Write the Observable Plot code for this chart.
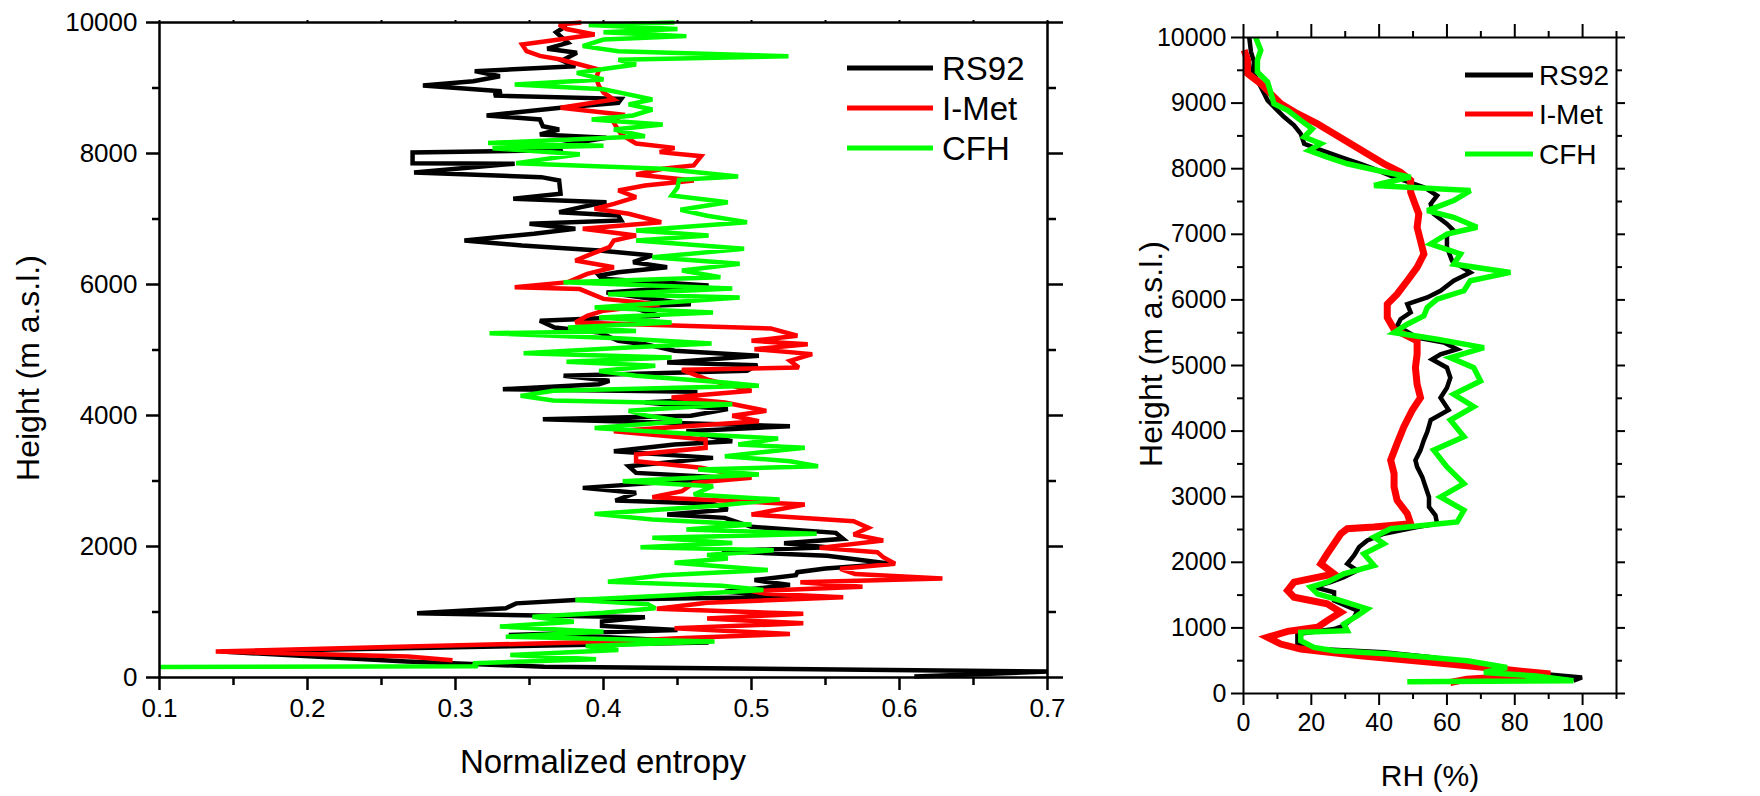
<!DOCTYPE html>
<html>
<head>
<meta charset="utf-8">
<script src="https://cdn.jsdelivr.net/npm/d3@7"></script>
<script src="https://cdn.jsdelivr.net/npm/@observablehq/plot@0.6"></script>
<style>
  html, body { margin: 0; padding: 0; background: #fff; }
  #wrap { position: relative; width: 1760px; height: 796px; background: #fff; overflow: hidden; }
  #wrap svg { position: absolute; top: 0; }
</style>
</head>
<body>
<div id="wrap"></div>
<script>
// ---------------- DATA ----------------
const seriesNames = ["RS92", "I-Met", "CFH"];
const seriesColors = ["#000000", "#ff0000", "#00ff00"];

// Left panel: [height (m a.s.l.), normalized entropy]
const entropyRS92 = [
  [9950,0.375],[9850,0.368],[9690,0.376],[9600,0.362],[9537,0.382],[9420,0.372],[9333,0.381],[9257,0.313],
  [9180,0.330],[9104,0.312],[9038,0.278],[8951,0.331],[8885,0.326],[8834,0.412],[8773,0.410],[8697,0.371],
  [8580,0.321],[8519,0.357],[8417,0.359],[8366,0.370],[8290,0.357],[8239,0.402],[8122,0.370],[8051,0.371],
  [8015,0.271],[7850,0.271],[7845,0.340],[7710,0.272],[7639,0.358],[7588,0.370],[7384,0.371],[7308,0.339],
  [7257,0.402],[7181,0.385],[7104,0.370],[7053,0.410],[6977,0.412],[6926,0.350],[6850,0.381],[6774,0.353],
  [6672,0.306],[6595,0.345],[6519,0.397],[6443,0.433],[6341,0.420],[6264,0.443],[6188,0.410],[6137,0.397],
  [6086,0.399],[5985,0.471],[5878,0.402],[5700,0.459],[5665,0.417],[5522,0.438],[5446,0.357],[5344,0.367],
  [5267,0.397],[5140,0.410],[5089,0.428],[4988,0.448],[4911,0.505],[4809,0.443],[4769,0.504],[4682,0.497],
  [4606,0.373],[4529,0.404],[4478,0.397],[4402,0.332],[4361,0.462],[4239,0.462],[4199,0.428],[4097,0.484],
  [3995,0.459],[3944,0.359],[3837,0.526],[3761,0.456],[3608,0.487],[3557,0.448],[3455,0.407],[3353,0.474],
  [3226,0.417],[3124,0.422],[3048,0.484],[2895,0.386],[2819,0.422],[2702,0.408],[2651,0.474],[2564,0.484],
  [2488,0.443],[2437,0.482],[2300,0.500],[2208,0.557],[2117,0.562],[2050,0.522],[1990,0.551],[1928,0.480],
  [1860,0.551],[1736,0.594],[1665,0.550],[1608,0.531],[1563,0.530],[1487,0.502],[1411,0.526],[1310,0.482],
  [1233,0.529],[1183,0.381],[1132,0.341],[1056,0.334],[980,0.274],[919,0.428],[853,0.399],[787,0.399],
  [726,0.450],[650,0.336],[614,0.404],[533,0.471],[396,0.142],[244,0.267],[165,0.360],[90,0.700],[15,0.610]
];
const entropyIMet = [
  [10000,0.385],[9970,0.370],[9900,0.375],[9817,0.394],[9740,0.370],[9664,0.345],[9562,0.348],[9490,0.357],
  [9435,0.371],[9359,0.384],[9282,0.397],[9150,0.395],[9028,0.397],[8930,0.400],[8824,0.407],[8697,0.371],
  [8595,0.412],[8468,0.407],[8290,0.412],[8152,0.422],[8086,0.448],[8021,0.438],[7959,0.466],[7817,0.461],
  [7766,0.440],[7680,0.422],[7588,0.461],[7512,0.428],[7435,0.410],[7333,0.422],[7232,0.407],[7155,0.394],
  [7079,0.417],[6952,0.439],[6850,0.386],[6748,0.422],[6672,0.407],[6570,0.404],[6468,0.392],[6366,0.381],
  [6264,0.407],[6163,0.389],[6036,0.376],[5959,0.340],[5930,0.384],[5780,0.400],[5700,0.438],[5600,0.400],
  [5522,0.389],[5420,0.381],[5329,0.513],[5217,0.531],[5140,0.500],[5089,0.538],[5013,0.502],[4937,0.541],
  [4835,0.526],[4733,0.532],[4697,0.453],[4550,0.470],[4377,0.500],[4275,0.446],[4199,0.482],[4071,0.510],
  [3995,0.487],[3913,0.505],[3761,0.407],[3633,0.469],[3506,0.469],[3404,0.422],[3302,0.422],[3201,0.466],
  [3048,0.500],[2972,0.461],[2844,0.453],[2753,0.433],[2641,0.536],[2488,0.500],[2386,0.569],[2285,0.579],
  [2183,0.569],[2092,0.589],[1979,0.546],[1914,0.585],[1837,0.589],[1736,0.597],[1660,0.560],[1580,0.570],
  [1513,0.629],[1455,0.533],[1386,0.575],[1320,0.500],[1277,0.510],[1226,0.562],[1140,0.470],[1048,0.436],
  [972,0.535],[900,0.470],[827,0.535],[751,0.448],[665,0.526],[600,0.450],[548,0.406],[472,0.268],
  [396,0.138],[320,0.268],[265,0.298]
];
const entropyCFH = [
  [10000,0.448],[9960,0.390],[9900,0.450],[9850,0.400],[9792,0.456],[9740,0.400],[9639,0.386],[9560,0.410],
  [9486,0.525],[9430,0.410],[9359,0.422],[9290,0.400],[9231,0.382],[9130,0.400],[9053,0.340],[8980,0.400],
  [8926,0.412],[8824,0.433],[8750,0.417],[8672,0.433],[8580,0.420],[8519,0.392],[8442,0.440],[8366,0.407],
  [8264,0.428],[8160,0.322],[8120,0.400],[8080,0.325],[7990,0.384],[7853,0.341],[7766,0.440],[7649,0.491],
  [7598,0.451],[7480,0.450],[7359,0.446],[7257,0.484],[7140,0.452],[7050,0.470],[6952,0.497],[6824,0.422],
  [6748,0.471],[6672,0.422],[6544,0.495],[6417,0.433],[6315,0.492],[6213,0.453],[6112,0.479],[6036,0.373],
  [5940,0.487],[5853,0.403],[5802,0.492],[5649,0.394],[5573,0.474],[5496,0.397],[5420,0.446],[5344,0.376],
  [5290,0.422],[5257,0.323],[5180,0.410],[5100,0.473],[5030,0.410],[4952,0.346],[4886,0.446],[4820,0.375],
  [4758,0.435],[4680,0.397],[4606,0.422],[4504,0.482],[4453,0.505],[4377,0.366],[4300,0.344],[4230,0.366],
  [4173,0.487],[4071,0.417],[3995,0.430],[3913,0.453],[3811,0.394],[3710,0.466],[3648,0.518],[3557,0.491],
  [3506,0.536],[3379,0.482],[3302,0.526],[3226,0.545],[3175,0.464],[3099,0.505],[2997,0.413],[2921,0.474],
  [2793,0.461],[2717,0.519],[2620,0.474],[2498,0.394],[2412,0.433],[2336,0.500],[2259,0.456],[2193,0.544],
  [2132,0.433],[2055,0.487],[1989,0.425],[1944,0.515],[1870,0.470],[1817,0.484],[1751,0.448],[1640,0.511],
  [1560,0.440],[1462,0.403],[1400,0.480],[1335,0.508],[1260,0.450],[1183,0.381],[1120,0.430],[1056,0.435],
  [990,0.400],[929,0.352],[850,0.380],[777,0.330],[700,0.400],[624,0.334],[548,0.475],[482,0.388],
  [421,0.410],[345,0.337],[279,0.395],[218,0.312],[170,0.315],[160,0.100]
];

// Right panel: [height (m a.s.l.), RH (%)]
const rhRS92 = [
  [10000,1.7],[9781,2.2],[9628,3.1],[9475,2.7],[9348,4.1],[9195,5.6],[9042,7.1],[8890,10],[8788,12],
  [8660,14.9],[8533,16.9],[8380,17.9],[8304,21.8],[8176,28.7],[8075,34.5],[7998,38.5],[7871,44.4],
  [7718,53.2],[7591,57.1],[7463,55.2],[7310,56.1],[7158,60],[7056,62],[6979,60],[6801,60],[6597,61.5],
  [6419,66.9],[6292,62],[6139,58.1],[6037,54.2],[5935,48.3],[5808,49.3],[5706,46.3],[5604,45.3],
  [5426,51.2],[5349,59.1],[5247,63],[5171,58.1],[5094,55.6],[4967,60],[4814,61],[4662,60],[4509,58.1],
  [4321,60.5],[4168,55.2],[3990,54.2],[3863,53.2],[3710,52.2],[3557,50.7],[3455,51.2],[3302,52.7],
  [3149,53.7],[2996,54.7],[2844,54.7],[2716,56.6],[2589,57.1],[2538,51.2],[2436,41.4],[2334,36.5],
  [2232,34.1],[2105,32.6],[1977,30.6],[1875,33.6],[1773,29.6],[1697,25.7],[1621,20.8],[1544,26.7],
  [1417,26.7],[1264,33.6],[1162,32.6],[1034,29.6],[983,26.7],[907,15.9],[754,15.9],[678,21.8],
  [627,41.4],[550,56.1],[448,67.9],[347,77.7],[245,99.8],[194,97.3]
];
const rhIMet = [
  [9806,0.2],[9654,1.2],[9450,1.2],[9297,5.1],[9144,8],[8991,11],[8839,15.9],[8686,21.8],[8533,26.7],
  [8380,31.6],[8227,36.5],[8075,41.4],[7947,46.3],[7820,49.3],[7642,49.3],[7514,50.2],[7310,51.7],
  [7107,51.2],[6903,52.2],[6699,53.2],[6495,51.2],[6292,48.3],[6088,45.3],[5935,42.4],[5731,42.4],
  [5553,44.4],[5375,51.2],[5171,51.2],[4967,50.7],[4712,51.2],[4509,52.2],[4321,49.8],[4066,47.3],
  [3812,45.3],[3557,43.4],[3353,44.4],[3149,44.4],[2945,45.3],[2742,48.3],[2589,49.3],[2538,38.5],
  [2512,30.6],[2436,28.7],[2283,26.7],[2130,24.7],[1977,22.8],[1824,26.7],[1697,14.9],[1570,13],
  [1468,14.9],[1366,24.7],[1238,28.7],[1111,24.7],[1009,21.8],[948,13],[856,7.1],[754,11],[678,16.9],
  [576,34.5],[474,56.1],[372,75.8],[296,90.5],[219,65.9],[168,61]
];
const rhCFH = [
  [10000,3.6],[9806,5.1],[9654,4.1],[9475,4.1],[9322,7.1],[9170,8],[8991,9],[8890,13],[8737,16.9],
  [8609,20.3],[8482,17.9],[8380,22.8],[8278,19.3],[8176,24.7],[8075,30.6],[7973,39.5],[7871,49.3],
  [7794,42.4],[7744,38.5],[7667,66.9],[7514,62],[7361,54.2],[7259,62],[7107,68.9],[7005,60],[6852,55.2],
  [6699,64],[6546,62],[6419,78.7],[6292,66.9],[6139,65],[6012,57.1],[5884,54.2],[5757,53.2],[5629,48.3],
  [5502,44.4],[5400,57.1],[5273,70.9],[5120,61],[4967,67.9],[4763,69.9],[4560,62],[4372,67.9],[4168,61],
  [3914,65],[3710,56.1],[3455,60],[3200,65],[2996,58.1],[2793,65],[2614,63],[2512,43.4],[2385,38.5],
  [2283,41.4],[2130,35.5],[1952,38.5],[1824,29.6],[1697,24.7],[1621,19.8],[1519,21.8],[1417,28.7],
  [1289,36.5],[1187,33.6],[1060,29.6],[958,30.6],[933,16.9],[805,16.9],[703,20.8],[652,26.7],[601,43.4],
  [499,66],[397,77.7],[321,70.9],[270,85.6],[194,97.3],[178,48.3]
];

// Axis ticks
const entropyTicks = [0.1, 0.2, 0.3, 0.4, 0.5, 0.6, 0.7];
const entropyMinorTicks = [0.15, 0.25, 0.35, 0.45, 0.55, 0.65];
const heightTicksLeft = [0, 2000, 4000, 6000, 8000, 10000];
const heightMinorLeft = [1000, 3000, 5000, 7000, 9000];
const rhTicks = [0, 20, 40, 60, 80, 100];
const rhMinorTicks = [10, 30, 50, 70, 90, 110];
const heightTicksRight = [0, 1000, 2000, 3000, 4000, 5000, 6000, 7000, 8000, 9000, 10000];
const heightMinorRight = [500, 1500, 2500, 3500, 4500, 5500, 6500, 7500, 8500, 9500];

// ---------------- RENDER ----------------
const FONT = "'Liberation Sans', Arial, Helvetica, sans-serif";
const toRows = (pairs) => pairs.map(([h, v]) => ({h, v}));
const blank = () => "";

function lines(sets, width) {
  return sets.map((s, i) => Plot.line(toRows(s), {
    x: "v", y: "h", stroke: seriesColors[i], strokeWidth: width[i],
    strokeLinejoin: "miter", strokeMiterlimit: 3, strokeLinecap: "butt"
  }));
}

const wrap = document.getElementById("wrap");

// Left panel
const leftW = 1090;
const leftPlot = Plot.plot({
  width: leftW, height: 796,
  marginLeft: 159, marginRight: leftW - 1047, marginTop: 22, marginBottom: 796 - 677,
  x: {domain: [0.1, 0.7]},
  y: {domain: [0, 10000]},
  style: {fontFamily: FONT, color: "#000", background: "transparent", overflow: "visible"},
  marks: [
    ...lines([entropyRS92, entropyIMet, entropyCFH], [4.5, 4.5, 4.5]),
    Plot.frame({stroke: "#000", strokeWidth: 2.5}),
    Plot.axisX({anchor: "bottom", ticks: entropyTicks, tickSize: 13, tickPadding: 8, tickFormat: d => d.toFixed(1), fontSize: 26, strokeWidth: 2.5, label: null}),
    Plot.axisX({anchor: "bottom", ticks: entropyMinorTicks, tickSize: 8, tickFormat: blank, strokeWidth: 2.5, label: null}),
    Plot.axisX({anchor: "top", ticks: entropyTicks.concat(entropyMinorTicks), tickSize: 3, tickFormat: blank, strokeWidth: 2, label: null}),
    Plot.axisY({anchor: "left", ticks: heightTicksLeft, tickSize: 13, tickPadding: 9, tickFormat: d => String(d), fontSize: 26, strokeWidth: 2.5, label: null}),
    Plot.axisY({anchor: "left", ticks: heightMinorLeft, tickSize: 7, tickFormat: blank, strokeWidth: 2.5, label: null}),
    Plot.axisY({anchor: "right", ticks: heightTicksLeft, tickSize: 15, tickFormat: blank, strokeWidth: 2.5, label: null}),
    Plot.axisY({anchor: "right", ticks: heightMinorLeft, tickSize: 8, tickFormat: blank, strokeWidth: 2.5, label: null})
  ]
});
leftPlot.style.left = "0px";
wrap.appendChild(leftPlot);

// Right panel
const rightX = 1100, rightW = 660;
const rightPlot = Plot.plot({
  width: rightW, height: 796,
  marginLeft: 1243 - rightX, marginRight: rightW - (1616 - rightX), marginTop: 37, marginBottom: 796 - 693,
  x: {domain: [0, 110]},
  y: {domain: [0, 10000]},
  style: {fontFamily: FONT, color: "#000", background: "transparent", overflow: "visible"},
  marks: [
    ...lines([rhRS92, rhIMet, rhCFH], [4.5, 7, 5.5]),
    Plot.frame({stroke: "#000", strokeWidth: 2}),
    Plot.axisX({anchor: "bottom", ticks: rhTicks, tickSize: 12, tickPadding: 8, tickFormat: d => String(d), fontSize: 25, strokeWidth: 2, label: null}),
    Plot.axisX({anchor: "bottom", ticks: rhMinorTicks, tickSize: 6, tickFormat: blank, strokeWidth: 2, label: null}),
    Plot.axisX({anchor: "top", ticks: rhTicks, tickSize: 14, tickFormat: blank, strokeWidth: 2, label: null}),
    Plot.axisX({anchor: "top", ticks: rhMinorTicks, tickSize: 7, tickFormat: blank, strokeWidth: 2, label: null}),
    Plot.axisY({anchor: "left", ticks: heightTicksRight, tickSize: 12, tickPadding: 5, tickFormat: d => String(d), fontSize: 25, strokeWidth: 2, label: null}),
    Plot.axisY({anchor: "left", ticks: heightMinorRight, tickSize: 6, tickFormat: blank, strokeWidth: 2, label: null}),
    Plot.axisY({anchor: "right", ticks: heightTicksRight, tickSize: 8, tickFormat: blank, strokeWidth: 2, label: null}),
    Plot.axisY({anchor: "right", ticks: heightMinorRight, tickSize: 5, tickFormat: blank, strokeWidth: 2, label: null})
  ]
});
rightPlot.style.left = rightX + "px";
wrap.appendChild(rightPlot);

// Axis titles and legends (layout only)
function addText(svg, txt, x, y, size, rotate) {
  const t = d3.select(svg).append("text")
    .attr("x", x).attr("y", y)
    .attr("font-family", FONT).attr("font-size", size)
    .attr("fill", "#000")
    .attr("text-anchor", "middle")
    .text(txt);
  if (rotate) t.attr("transform", `rotate(${rotate},${x},${y})`);
  return t;
}
addText(leftPlot, "Normalized entropy", 603, 773, 33);
addText(leftPlot, "Height (m a.s.l.)", 39, 368, 32, -90);
addText(rightPlot, "RH (%)", 1430 - rightX, 786, 30);
addText(rightPlot, "Height (m a.s.l.)", 1162 - rightX, 354, 32, -90);

function addLegend(svg, x0, x1, tx, ys, size) {
  const g = d3.select(svg).append("g");
  seriesNames.forEach((name, i) => {
    g.append("line").attr("x1", x0).attr("x2", x1).attr("y1", ys[i]).attr("y2", ys[i])
      .attr("stroke", seriesColors[i]).attr("stroke-width", 5);
    g.append("text").attr("x", tx).attr("y", ys[i]).attr("dy", "0.36em")
      .attr("text-anchor", "start")
      .attr("font-family", FONT).attr("font-size", size).attr("fill", "#000").text(name);
  });
}
addLegend(leftPlot, 847, 933, 942, [68, 108, 148], 33);
addLegend(rightPlot, 1465 - rightX, 1533 - rightX, 1539 - rightX, [75, 114, 154], 28);
</script>
</body>
</html>
